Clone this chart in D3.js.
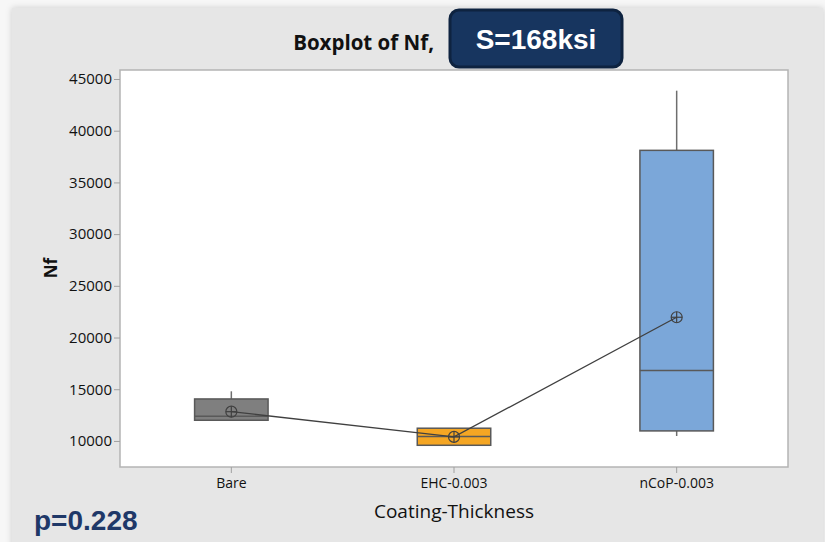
<!DOCTYPE html>
<html><head><meta charset="utf-8">
<script src="https://cdn.jsdelivr.net/npm/d3@7"></script>
<style>html,body{margin:0;padding:0;background:#f7f7f7;}svg{display:block;}</style>
</head><body>
<svg id="chart" width="825" height="542"></svg>
<script>
const categories = ["Bare", "EHC-0.003", "nCoP-0.003"];
const q1 = [12000, 9580, 10970];
const medians = [12390, 10420, 16800];
const q3 = [14060, 11230, 38100];
const whiskerLow = [12000, 9580, 10480];
const whiskerHigh = [14800, 11230, 43870];
const means = [12830, 10390, 21960];
const boxColors = ["#7f7f7f", "#f5a623", "#7ba7d9"];
const yTicks = [10000, 15000, 20000, 25000, 30000, 35000, 40000, 45000];

const svg = d3.select("#chart");
const defs = svg.append("defs");
const f = defs.append("filter").attr("id","sh").attr("x","-5%").attr("y","-5%").attr("width","110%").attr("height","110%");
f.append("feDropShadow").attr("dx",0).attr("dy",0).attr("stdDeviation",3).attr("flood-color","#000").attr("flood-opacity",0.18);

svg.append("rect").attr("x",12).attr("y",8).attr("width",811).attr("height",560)
  .attr("fill","#e6e6e6").attr("filter","url(#sh)");

const L = 120, R = 788, T = 70, B = 467;
const x = d3.scaleBand().domain(categories).range([L, R]).padding(0);
const y = d3.scaleLinear().domain([7480, 45870]).range([B, T]);

svg.append("rect").attr("x",L).attr("y",T).attr("width",R-L).attr("height",B-T)
  .attr("fill","#fff").attr("stroke","#b4b4b4").attr("stroke-width",1.5);

const yAxis = svg.append("g").attr("transform",`translate(${L},0)`)
  .call(d3.axisLeft(y).tickValues(yTicks).tickFormat(d3.format("d")).tickSize(6).tickPadding(2));
yAxis.select(".domain").remove();
yAxis.selectAll(".tick line").attr("stroke","#a0a0a0");
yAxis.selectAll(".tick text").attr("fill","#111").attr("font-family","'Open Sans', sans-serif").attr("font-size",15).attr("font-weight",500);

const xAxis = svg.append("g").attr("transform",`translate(0,${B})`)
  .call(d3.axisBottom(x).tickSize(6).tickPadding(5));
xAxis.select(".domain").remove();
xAxis.selectAll(".tick line").attr("stroke","#a0a0a0");
xAxis.selectAll(".tick text").attr("fill","#111").attr("font-family","'Open Sans', sans-serif").attr("font-size",14).attr("font-weight",500);

const bw = x.bandwidth() * 0.33;
const cx = c => x(c) + x.bandwidth()/2;
const g = svg.append("g");
categories.forEach((c, i) => {
  g.append("line").attr("x1",cx(c)).attr("x2",cx(c)).attr("y1",y(q3[i])).attr("y2",y(whiskerHigh[i]))
    .attr("stroke","#6e6e6e").attr("stroke-width",1.5);
  g.append("line").attr("x1",cx(c)).attr("x2",cx(c)).attr("y1",y(q1[i])).attr("y2",y(whiskerLow[i]))
    .attr("stroke","#6e6e6e").attr("stroke-width",1.5);
  g.append("rect").attr("x",cx(c)-bw/2).attr("width",bw).attr("y",y(q3[i])).attr("height",y(q1[i])-y(q3[i]))
    .attr("fill",boxColors[i]).attr("stroke","#595959").attr("stroke-width",1.5);
  g.append("line").attr("x1",cx(c)-bw/2).attr("x2",cx(c)+bw/2).attr("y1",y(medians[i])).attr("y2",y(medians[i]))
    .attr("stroke","#595959").attr("stroke-width",1.5);
});

const line = d3.line().x((d,i)=>cx(categories[i])).y(d=>y(d));
g.append("path").datum(means).attr("d",line).attr("fill","none").attr("stroke","#404040").attr("stroke-width",1.3);
categories.forEach((c,i)=>{
  const px = cx(c), py = y(means[i]), r = 5.5;
  g.append("circle").attr("cx",px).attr("cy",py).attr("r",r).attr("fill","none").attr("stroke","#404040").attr("stroke-width",1.2);
  g.append("line").attr("x1",px-r).attr("x2",px+r).attr("y1",py).attr("y2",py).attr("stroke","#404040").attr("stroke-width",1.2);
  g.append("line").attr("x1",px).attr("x2",px).attr("y1",py-r).attr("y2",py+r).attr("stroke","#404040").attr("stroke-width",1.2);
});

svg.append("text").attr("x",(L+R)/2).attr("y",518).attr("text-anchor","middle")
  .attr("font-family","'Open Sans', sans-serif").attr("font-size",19).attr("font-weight",500).attr("fill","#111")
  .text("Coating-Thickness");
svg.append("text").attr("transform",`translate(57,268) rotate(-90)`).attr("text-anchor","middle")
  .attr("font-family","'Open Sans', sans-serif").attr("font-size",17).attr("font-weight",700).attr("fill","#111")
  .text("Nf");

svg.append("text").attr("x",434).attr("y",50).attr("text-anchor","end")
  .attr("font-family","'Open Sans', sans-serif").attr("font-size",20.5).attr("font-weight",700).attr("fill","#111")
  .text("Boxplot of Nf,");

svg.append("rect").attr("x",450).attr("y",10).attr("width",172).attr("height",57).attr("rx",9)
  .attr("fill","#17355f").attr("stroke","#0e2340").attr("stroke-width",3);
svg.append("text").attr("x",536).attr("y",49).attr("text-anchor","middle")
  .attr("font-family","'Liberation Sans', Arial, sans-serif").attr("font-size",28).attr("font-weight",700).attr("fill","#fff")
  .text("S=168ksi");

svg.append("text").attr("x",34).attr("y",530)
  .attr("font-family","'Liberation Sans', Arial, sans-serif").attr("font-size",28).attr("font-weight",700).attr("fill","#1f3868")
  .text("p=0.228");
</script>
</body></html>
